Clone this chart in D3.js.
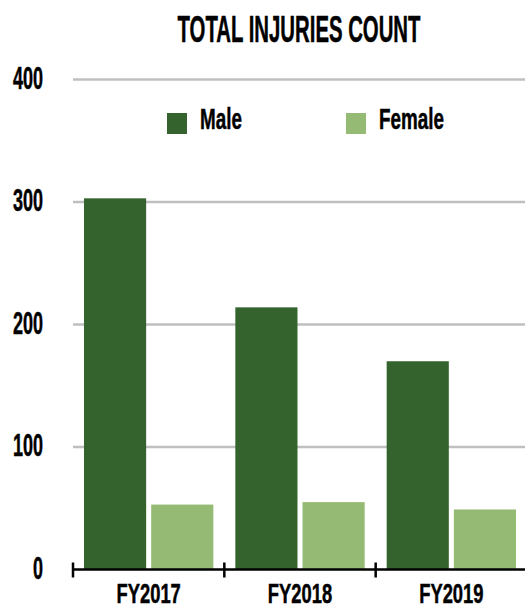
<!DOCTYPE html>
<html>
<head>
<meta charset="utf-8">
<script src="https://cdn.jsdelivr.net/npm/d3@7"></script>
<style>
  html, body { margin: 0; padding: 0; background: #fff; }
  svg { display: block; }
  text { font-family: "Liberation Sans", Arial, sans-serif; font-weight: bold; fill: #000; stroke: #000; stroke-width: 0.5px; }
</style>
</head>
<body>
<svg id="chart" width="525" height="608"></svg>
<script>
// Injury counts by fiscal year, split by gender
const years = ["FY2017", "FY2018", "FY2019"];
const series = ["Male", "Female"];
const maleCounts = [303, 214, 170];
const femaleCounts = [53, 55, 49];
const yTicks = [0, 100, 200, 300, 400];
const colors = ["#34632d", "#94ba74"];

const rows = years.map((y, i) => ({ year: y, Male: maleCounts[i], Female: femaleCounts[i] }));

const svg = d3.select("#chart");

const x0 = d3.scaleBand().domain(years).range([73, 527]).paddingInner(0).paddingOuter(0);
const x1 = d3.scaleBand().domain(series).range([11, x0.bandwidth() - 11]).paddingInner(0.075);
const y = d3.scaleLinear().domain([0, 400]).range([569.5, 79.5]);
const color = d3.scaleOrdinal().domain(series).range(colors);

// condensed-looking bold text: horizontally squeezed glyphs
function label(sel, tx, ty, size, sx, anchor) {
  return sel.append("text")
    .attr("transform", `translate(${tx},${ty}) scale(${sx},1)`)
    .attr("font-size", size)
    .attr("text-anchor", anchor);
}

// title
label(svg, 299, 42, 37, 0.55, "middle").text("TOTAL INJURIES COUNT");

// horizontal gridlines
svg.append("g").selectAll("line")
  .data(yTicks.filter(d => d > 0))
  .join("line")
  .attr("x1", 73).attr("x2", 525)
  .attr("y1", d => y(d)).attr("y2", d => y(d))
  .attr("stroke", "#bfbfbf").attr("stroke-width", 2.5);

// y tick labels
const yLab = svg.append("g");
yTicks.forEach(t => {
  label(yLab, 43, y(t) - 2, 31, 0.58, "end")
    .attr("dominant-baseline", "central")
    .text(d3.format("d")(t));
});

// bars
svg.append("g").selectAll("g")
  .data(rows)
  .join("g")
  .attr("transform", d => `translate(${x0(d.year)},0)`)
  .selectAll("rect")
  .data(d => series.map(s => ({ key: s, value: d[s] })))
  .join("rect")
  .attr("x", d => x1(d.key))
  .attr("width", x1.bandwidth())
  .attr("y", d => y(d.value))
  .attr("height", d => y(0) - y(d.value))
  .attr("fill", d => color(d.key));

// x axis line with ticks on category boundaries
const axis = svg.append("g").attr("transform", `translate(0,${y(0)})`);
axis.append("line")
  .attr("x1", x0.range()[0]).attr("x2", x0.range()[1])
  .attr("y1", 0).attr("y2", 0)
  .attr("stroke", "#000").attr("stroke-width", 2.5);
const bounds = years.map(c => x0(c)).concat([x0.range()[1]]);
axis.selectAll("line.tick")
  .data(bounds)
  .join("line")
  .attr("class", "tick")
  .attr("x1", d => d).attr("x2", d => d)
  .attr("y1", -7).attr("y2", 8)
  .attr("stroke", "#000").attr("stroke-width", 2.5);
years.forEach(c => {
  label(svg, x0(c) + x0.bandwidth() / 2, 603, 27, 0.68, "middle").text(c);
});

// legend
const legendX = [167, 346];
series.forEach((s, i) => {
  svg.append("rect")
    .attr("x", legendX[i]).attr("y", 113)
    .attr("width", 20).attr("height", 21)
    .attr("fill", color(s));
  label(svg, legendX[i] + 33, 129, 29, 0.65, "start").text(s);
});
</script>
</body>
</html>
